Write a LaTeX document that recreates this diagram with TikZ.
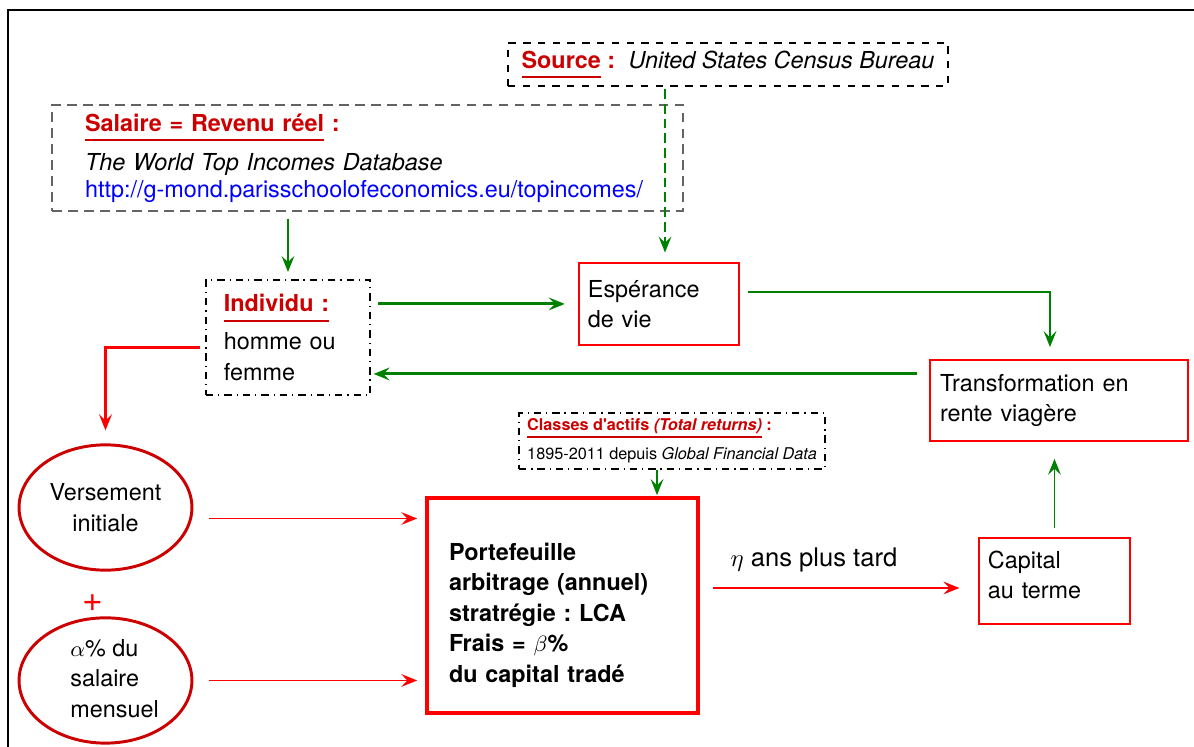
\documentclass[tikz,border=0pt]{standalone}
\usepackage{fontspec}
\setmainfont{TeX Gyre Heros}
\usetikzlibrary{positioning, arrows.meta, shapes.geometric}
\definecolor{rtred}{RGB}{204, 0, 0}
\definecolor{rtgreen}{RGB}{0, 128, 0}
\definecolor{rtgray}{RGB}{100, 100, 100}
\newcommand{\taille}{\fontsize{9.5}{12.4}\selectfont\frenchspacing}
\newcommand{\souligne}[1]{\leavevmode\setbox0\hbox{#1}\rlap{\rule[-0.42em]{\wd0}{0.08em}}\box0}

\begin{document}
\begin{tikzpicture}[font=\taille,
  boite/.style={draw=red, line width=0.5pt, align=left, inner ysep=0pt},
  cadre/.style={draw, line width=0.5pt, align=left, inner ysep=0pt},
  fleche/.style={-{Stealth[length=6.5pt, width=5.2pt, inset=2.5pt]}},
  vert fin/.style={fleche, rtgreen, line width=0.6pt},
  vert gras/.style={fleche, rtgreen, line width=1.2pt},
  rouge fin/.style={fleche, red, line width=0.5pt},
  bulle/.style={ellipse, draw=rtred, line width=1.2pt, minimum width=2.47cm, minimum height=1.79cm, inner sep=0pt}]
  \useasboundingbox (0,0) rectangle (17.057,10.671);
  \draw[line width=0.6pt] (17.2,10.529) -- (0.114,10.529) -- (0.114,-0.2);

  \node[cadre, dashed, minimum width=6.286cm, minimum height=0.614cm] (source) at (10.4,9.75) {\textcolor{rtred}{\souligne{\textbf{Source}}\textbf{ :}}\hspace{0.1cm} \textit{United States Census Bureau}};
  \node[cadre, dash pattern=on 4pt off 2.5pt, draw=rtgray, minimum width=9.014cm, minimum height=1.514cm, text width=8.07cm, inner xsep=0.471cm] (salaire) at (5.25,8.414) {\textcolor{rtred}{\souligne{\textbf{Salaire = Revenu réel}}\textbf{ :}}\\[3.6pt] \textit{The World Top Incomes Database}\\[-1.4pt] \textcolor{blue}{http://g-mond.parisschoolofeconomics.eu/topincomes/}};
  \node[cadre, dash dot, minimum width=2.343cm, minimum height=1.643cm, text width=1.83cm, inner xsep=0.257cm] (individu) at (4.114,5.85) {\textcolor{rtred}{\souligne{\textbf{Individu :}}}\\[3pt] homme ou\\femme};
  \node[boite, minimum width=2.286cm, minimum height=1.171cm, text width=2.03cm, inner xsep=0.129cm] (esperance) at (9.414,6.329) {Espérance\\de vie};
  \node[boite, minimum width=3.686cm, minimum height=1.157cm, text width=3.4cm, inner xsep=0.143cm] (transfo) at (15.129,4.95) {Transformation en\\rente viagère};
  \node[boite, minimum width=2.157cm, minimum height=1.229cm, text width=1.9cm, inner xsep=0.129cm] (capital) at (15.064,2.371) {Capital\\au terme\rule[-5pt]{0pt}{0pt}};
  \node[cadre, dash dot, minimum width=4.229cm, minimum height=0.8cm, font=\fontsize{6.6}{8}\selectfont] (classes) at (9.6,4.371) {\textcolor{rtred}{\souligne{\textbf{Classes d\textquotesingle actifs \textit{(Total returns)}}}\textbf{ :}}\\[3.7pt] 1895-2011 depuis \textit{Global Financial Data}};
  \node[boite, line width=1.4pt, minimum width=3.871cm, minimum height=3.071cm, text width=3.243cm, inner xsep=0.314cm, font=\taille\bfseries] (portefeuille) at (8.036,2.021) {\rule{0pt}{15pt}Portefeuille\\arbitrage (annuel)\\stratrégie : LCA\\Frais = $\beta$\%\\du capital tradé};
  \node[bulle, align=center] (versement) at (1.507,3.421) {Versement\\initiale};
  \node[bulle] (salmens) at (1.507,0.95) {};
  \node[align=left] (salmenstxt) at ([xshift=0.13cm,yshift=0.03cm]salmens.center) {$\alpha$\% du\\salaire\\mensuel};
  \node[text=red, font=\Large] (plus) at (1.329,2.057) {+};

  \coordinate (e1) at ([yshift=0.171cm]esperance.east);
  \coordinate (t1) at ([yshift=0.379cm]transfo.west);
  \coordinate (i1) at ([yshift=-0.143cm]individu.west);
  \coordinate (v1) at ([yshift=-0.157cm]versement.east);
  \coordinate (c1) at ([xshift=-0.214cm]classes.south);
  \coordinate (k1) at ([yshift=-0.1cm]capital.west);
  \coordinate (s1) at ([xshift=0.086cm]esperance.north);

  \draw[vert fin, dash pattern=on 4pt off 2pt, shorten <=1pt, shorten >=4pt] (s1 |- source.south) -- (s1);
  \draw[vert fin, shorten <=3pt, shorten >=3pt] (individu.north |- salaire.south) -- (individu.north);
  \draw[vert gras, shorten <=3pt, shorten >=5.5pt] (individu.east |- esperance.west) -- (esperance.west);
  \draw[vert fin, shorten <=3.5pt, shorten >=5pt] (e1) -| ([xshift=-0.129cm]transfo.north);
  \draw[vert gras, shorten <=5pt, shorten >=1.2pt] (t1) -- (t1 -| individu.east);
  \draw[vert fin, shorten <=4pt, shorten >=7pt] (capital.north) -- (capital.north |- transfo.south);
  \draw[vert fin, shorten >=0.5pt] (c1) -- (c1 |- portefeuille.north);
  \draw[fleche, red, line width=1.2pt, shorten <=2pt, shorten >=5.3pt] (i1) -| (versement.north);
  \draw[rouge fin, shorten <=6.5pt, shorten >=3.3pt] (v1) -- (v1 -| portefeuille.west);
  \draw[rouge fin, shorten <=6.5pt, shorten >=3.3pt] (salmens.east) -- (salmens.east -| portefeuille.west);
  \draw[rouge fin, shorten <=5.3pt, shorten >=7.7pt] (k1 -| portefeuille.east) -- node[pos=0.41, yshift=0.4cm, text=black, font=\fontsize{10.4}{12}\selectfont] (eta) {$\eta$ ans plus tard} (k1);
\end{tikzpicture}
\end{document}
